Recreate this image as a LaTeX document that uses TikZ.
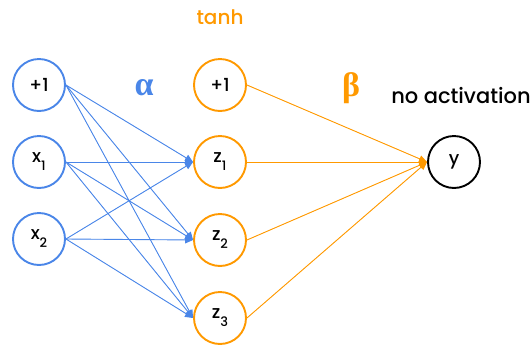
\documentclass[tikz,border=0pt]{standalone}
\usepackage{fontspec}
\setmainfont{Poppins}[UprightFont={* Medium}]
\newfontfamily\greekfont{Liberation Serif}[UprightFont={* Bold}]
\usetikzlibrary{arrows.meta}
\definecolor{nnblue}{RGB}{74,134,232}
\definecolor{nnorange}{RGB}{255,153,0}
\newcommand{\lsub}[2]{#1\raisebox{-8pt}{\fontsize{13}{14}\selectfont #2}}
\tikzset{
  neuron/.style={circle, draw, line width=1.9pt, minimum size=52pt, inner sep=0pt, font=\fontsize{18}{20}\selectfont},
  inneuron/.style={neuron, draw=nnblue},
  hidneuron/.style={neuron, draw=nnorange},
  outneuron/.style={neuron, draw=black},
  bluearrow/.style={draw=nnblue, line width=0.9pt, -{Triangle[length=8pt,width=7pt]}, fill=nnblue},
  orangearrow/.style={draw=nnorange, line width=0.9pt, -{Triangle[length=8pt,width=7pt]}, fill=nnorange},
}
\begin{document}
\begin{tikzpicture}[x=1pt,y=-1pt]
\useasboundingbox (0,0) rectangle (531,346);
\node[inneuron] (b0) at (39,85) {+1};
\node[inneuron] (x1) at (39,162) {\lsub{x}{1}};
\node[inneuron] (x2) at (39,239) {\lsub{x}{2}};
\node[hidneuron] (b1) at (220,85) {+1};
\node[hidneuron] (z1) at (220,162) {\lsub{z}{1}};
\node[hidneuron] (z2) at (220,240) {\lsub{z}{2}};
\node[hidneuron] (z3) at (220,318) {\lsub{z}{3}};
\node[outneuron] (y) at (454,162) {y};
\node[text=nnorange, font=\fontsize{20}{22}\selectfont] (tanh) at (220,17) {tanh};
\node[text=nnblue, font=\greekfont\fontsize{34}{36}\selectfont] (alpha) at (144,88) {α};
\node[text=nnorange, font=\greekfont\fontsize{34}{36}\selectfont] (beta) at (351,88) {β};
\node[text=black, font=\fontsize{21}{23}\selectfont] (noact) at (461,96) {no activation};
\foreach \s in {b0,x1,x2}{
  \foreach \t in {z1,z2,z3}{
    \draw[bluearrow] (\s.east) -- (\t.west);
  }
}
\foreach \s in {b1,z1,z2,z3}{
  \draw[orangearrow] (\s.east) -- (y.west);
}
\end{tikzpicture}
\end{document}
